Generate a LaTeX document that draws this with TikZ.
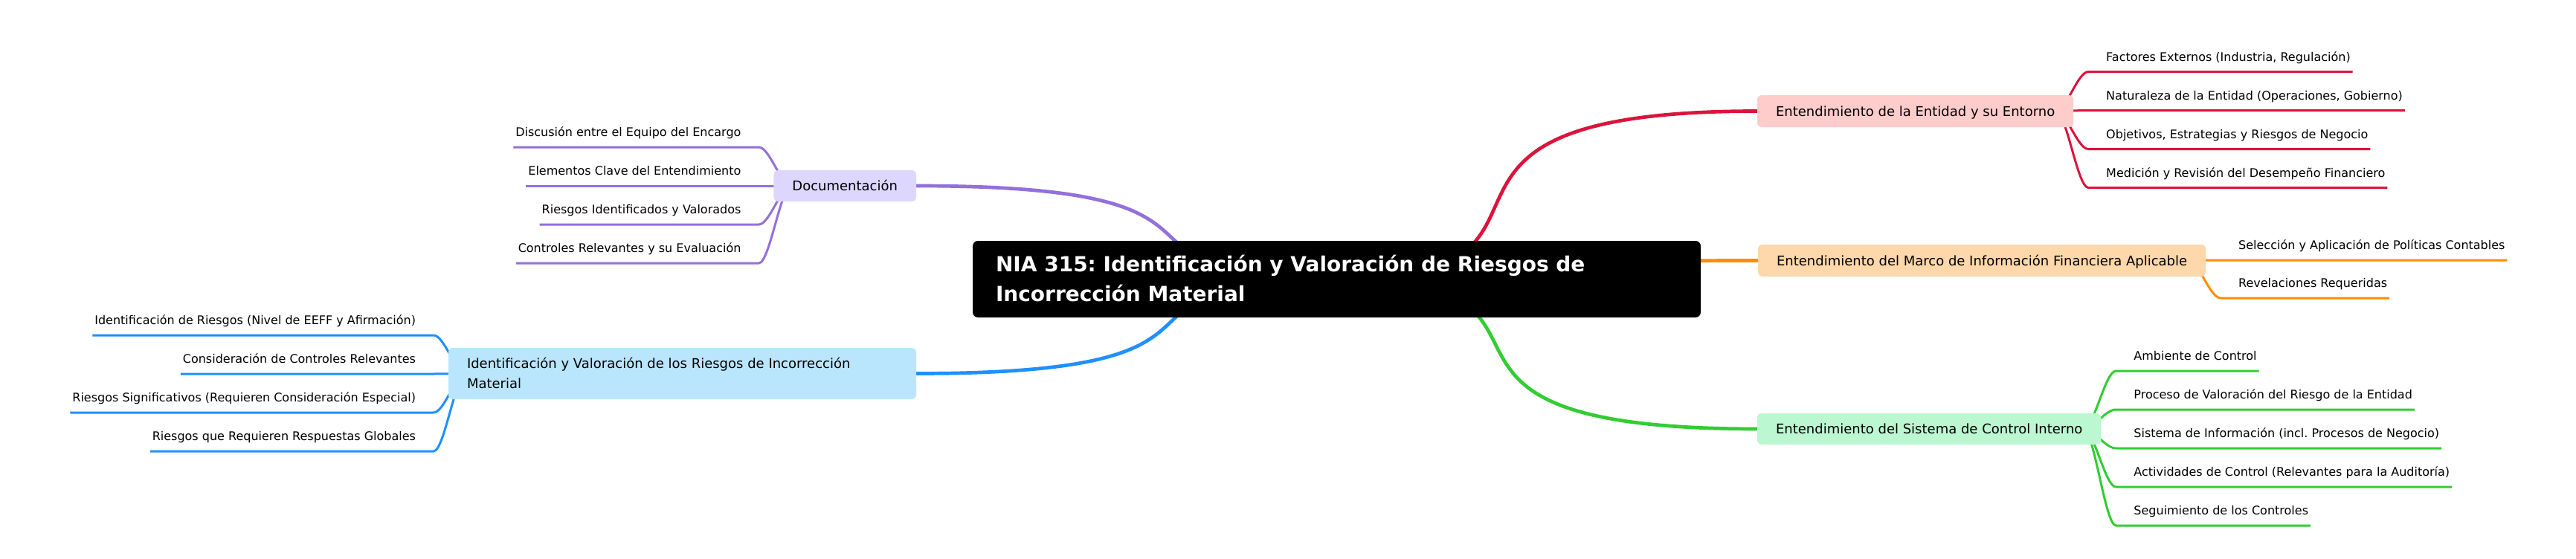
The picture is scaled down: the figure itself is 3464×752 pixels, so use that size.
\documentclass[tikz,border=0pt]{standalone}
\usepackage{fontspec}
\setmainfont{DejaVu Sans}
\usetikzlibrary{calc}
\frenchspacing
\pgfdeclarelayer{bg}
\pgfsetlayers{bg,main}
\definecolor{cred}{HTML}{DC143C}
\definecolor{cora}{HTML}{FF8C00}
\definecolor{cgrn}{HTML}{32CD32}
\definecolor{cpur}{HTML}{9370DB}
\definecolor{cblu}{HTML}{1E90FF}
\definecolor{fred}{HTML}{FFCCCC}
\definecolor{fora}{HTML}{FED7AA}
\definecolor{fgrn}{HTML}{BBF7D0}
\definecolor{fpur}{HTML}{DDD6FE}
\definecolor{fblu}{HTML}{BAE6FD}
\newcommand\rleaf[5]{%
  \coordinate (#1x) at ($(#2.east)+(41,0)$);
  \node[leaf, anchor=base west] (#1) at (#1x |- 0,#3-14.5) {#5};
  \coordinate (#1s) at ($(#2.east)+(-24,0)$);
  \coordinate (#1t) at ($(#2.east)+(20,0)$);
  \begin{pgfonlayer}{bg}
  \draw[leaflink, #4] (#1s) .. controls +(14.7,0) and +(-14.7,0) .. (#1t |- 0,#3) -- (#1.east |- 0,#3);
  \end{pgfonlayer}}
\newcommand\lleaf[5]{%
  \coordinate (#1x) at ($(#2.west)+(-41,0)$);
  \node[leaf, anchor=base east] (#1) at (#1x |- 0,#3-14.5) {#5};
  \coordinate (#1s) at ($(#2.west)+(24,0)$);
  \coordinate (#1t) at ($(#2.west)+(-20,0)$);
  \begin{pgfonlayer}{bg}
  \draw[leaflink, #4] (#1s) .. controls +(-14.7,0) and +(14.7,0) .. (#1t |- 0,#3) -- (#1.west |- 0,#3);
  \end{pgfonlayer}}
\begin{document}
\begin{tikzpicture}[x=1pt,y=-1pt,
  branch/.style={rounded corners=6pt, inner xsep=25pt, inner ysep=0pt, minimum height=43pt,
    text height=13.1pt, text depth=0pt, font=\fontsize{18}{27}\selectfont, outer sep=0pt},
  btext/.style={inner sep=0pt, outer sep=0pt, font=\fontsize{18}{27}\selectfont},
  roottext/.style={inner sep=0pt, outer sep=0pt, text=white, font=\fontsize{28}{40}\selectfont\bfseries},
  leaf/.style={inner xsep=3pt, inner ysep=0pt, outer sep=0pt, font=\fontsize{16}{19}\selectfont},
  mainlink/.style={line width=4.7pt},
  leaflink/.style={line width=3pt},
]
\begin{pgfonlayer}{bg}
\fill[white] (0,0) rectangle (3464,752);
\end{pgfonlayer}
\useasboundingbox (0,0) rectangle (3464,752);

% root
\node[fill=black, rounded corners=7pt, minimum width=979pt, minimum height=103pt, inner sep=0pt, outer sep=0pt] (root) at (1797.5,375.5) {};
\node[roottext, anchor=base west] (rt1) at (1339,365.7) {NIA 315: Identificación y Valoración de Riesgos de};
\node[roottext, anchor=base west] (rt2) at (1339,405.7) {Incorrección Material};

% branches
\node[branch, fill=fred, anchor=west] (b1) at (2363,149.5) {Entendimiento de la Entidad y su Entorno};
\node[branch, fill=fora, anchor=west] (b2) at (2364,350.5) {Entendimiento del Marco de Información Financiera Aplicable};
\node[branch, fill=fgrn, anchor=west, minimum height=42pt] (b3) at (2363,577) {Entendimiento del Sistema de Control Interno};
\node[branch, fill=fpur, anchor=east, minimum height=42pt] (b4) at (1232,250) {Documentación};
\node[fill=fblu, rounded corners=6pt, minimum width=629pt, minimum height=69pt, inner sep=0pt, outer sep=0pt, anchor=east] (b5) at (1232,502.5) {};
\node[btext, anchor=base west] (b5t1) at (628,495.55) {Identificación y Valoración de los Riesgos de Incorrección};
\node[btext, anchor=base west] (b5t2) at (628,522.55) {Material};

% root links
\begin{pgfonlayer}{bg}
\draw[mainlink, cred] (root.center) .. controls +(373,0) and +(-540,0) .. (b1.west);
\draw[mainlink, cora] (root.center) .. controls +(373,0) and +(-540,0) .. (b2.west);
\draw[mainlink, cgrn] (root.center) .. controls +(373,0) and +(-540,0) .. (b3.west);
\draw[mainlink, cpur] (root.center) .. controls +(-355,0) and +(497,0) .. (b4.east);
\draw[mainlink, cblu] (root.center) .. controls +(-355,0) and +(497,0) .. (b5.east);
\end{pgfonlayer}

% leaves
\rleaf{r1}{b1}{96.5}{cred}{Factores Externos (Industria, Regulación)}
\rleaf{r2}{b1}{148.5}{cred}{Naturaleza de la Entidad (Operaciones, Gobierno)}
\rleaf{r3}{b1}{200.5}{cred}{Objetivos, Estrategias y Riesgos de Negocio}
\rleaf{r4}{b1}{252.5}{cred}{Medición y Revisión del Desempeño Financiero}

\rleaf{o1}{b2}{350}{cora}{Selección y Aplicación de Políticas Contables}
\rleaf{o2}{b2}{401}{cora}{Revelaciones Requeridas}

\rleaf{g1}{b3}{499}{cgrn}{Ambiente de Control}
\rleaf{g2}{b3}{551}{cgrn}{Proceso de Valoración del Riesgo de la Entidad}
\rleaf{g3}{b3}{603}{cgrn}{Sistema de Información (incl. Procesos de Negocio)}
\rleaf{g4}{b3}{655}{cgrn}{Actividades de Control (Relevantes para la Auditoría)}
\rleaf{g5}{b3}{707}{cgrn}{Seguimiento de los Controles}

\lleaf{p1}{b4}{198}{cpur}{Discusión entre el Equipo del Encargo}
\lleaf{p2}{b4}{250}{cpur}{Elementos Clave del Entendimiento}
\lleaf{p3}{b4}{302}{cpur}{Riesgos Identificados y Valorados}
\lleaf{p4}{b4}{354}{cpur}{Controles Relevantes y su Evaluación}

\lleaf{u1}{b5}{451}{cblu}{Identificación de Riesgos (Nivel de EEFF y Afirmación)}
\lleaf{u2}{b5}{503}{cblu}{Consideración de Controles Relevantes}
\lleaf{u3}{b5}{555}{cblu}{Riesgos Significativos (Requieren Consideración Especial)}
\lleaf{u4}{b5}{607}{cblu}{Riesgos que Requieren Respuestas Globales}
\end{tikzpicture}
\end{document}
